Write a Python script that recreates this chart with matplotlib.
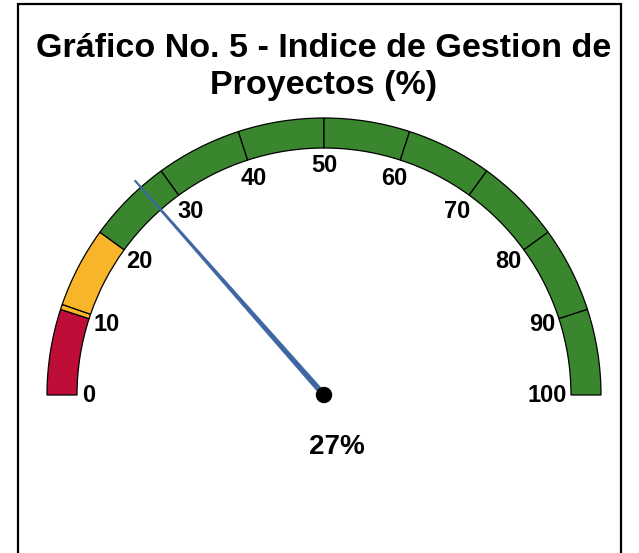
import numpy as np
import matplotlib.pyplot as plt
from matplotlib.patches import Wedge, Circle, Polygon, Rectangle

plt.rcParams['font.family'] = ['Liberation Sans', 'DejaVu Sans']

# gauge data
title = 'Gráfico No. 5 - Indice de Gestion de\nProyectos (%)'
value = 27
band_edges = [0, 10, 10.6, 20, 30, 40, 50, 60, 70, 80, 90, 100]
band_colors = ['#be0d37', '#f9b52a', '#f9b52a', '#3a862e', '#3a862e', '#3a862e',
               '#3a862e', '#3a862e', '#3a862e', '#3a862e', '#3a862e']
tick_values = [0, 10, 20, 30, 40, 50, 60, 70, 80, 90, 100]

# layout in pixel units
W, H = 639, 553
cx, cy = 324, H - 395
r_out, r_in = 277, 247


def ang(v):
    return 180 - 1.8 * v


fig = plt.figure(figsize=(W / 100, H / 100), dpi=100)
ax = fig.add_axes([0, 0, 1, 1])
ax.set_xlim(0, W)
ax.set_ylim(0, H)
ax.set_aspect('equal')
ax.axis('off')

# frame
ax.add_patch(Rectangle((18, -20), 603, H - 4 + 20, fill=False, ec='black', lw=1.6))

for a, b, c in zip(band_edges[:-1], band_edges[1:], band_colors):
    ax.add_patch(Wedge((cx, cy), r_out, ang(b), ang(a), width=r_out - r_in,
                       fc=c, ec='black', lw=0.9))

for t in tick_values:
    th = np.radians(ang(t))
    lab = str(t)
    w = 12.5 * len(lab)
    r = 241.5 - 0.48 * w * abs(np.cos(th)) - 11.5 * np.sin(th) ** 2
    ax.text(cx + r * np.cos(th), cy + r * np.sin(th), lab, ha='center', va='center',
            fontsize=17, fontweight='bold')

# needle
th = np.radians(ang(value))
L = 286
d = np.array([np.cos(th), np.sin(th)])
n = np.array([-d[1], d[0]])
pts = [(cx + 2.6 * n[0], cy + 2.6 * n[1]),
       (cx + L * d[0] + 0.7 * n[0], cy + L * d[1] + 0.7 * n[1]),
       (cx + L * d[0] - 0.7 * n[0], cy + L * d[1] - 0.7 * n[1]),
       (cx - 2.6 * n[0], cy - 2.6 * n[1])]
ax.add_patch(Polygon(pts, closed=True, fc='#3d66a3', ec='#3d66a3', lw=0.5))
ax.add_patch(Circle((cx, cy), 7.5, fc='black', ec='black'))

ax.text(cx + 13, H - 447, f'{value}%', ha='center', va='center',
        fontsize=20, fontweight='bold')
ax.text(cx, H - 67, title, ha='center', va='center', fontsize=24.5,
        fontweight='bold', linespacing=1.27)

fig.savefig('out.png', dpi=100)
